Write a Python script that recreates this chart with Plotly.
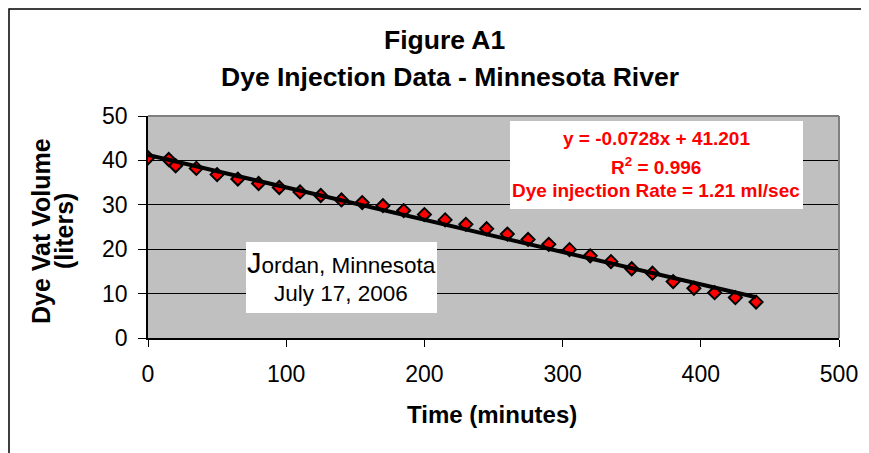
import plotly.graph_objects as go

# datos
time_min = [0, 15, 20, 35, 50, 65, 80, 95, 110, 125, 140, 155, 170, 185, 200, 215,
            230, 245, 260, 275, 290, 305, 320, 335, 350, 365, 380, 395, 410, 425, 440]
volume_l = [40.6, 40.2, 38.8, 38.2, 36.8, 35.8, 34.8, 33.9, 32.9, 32.1, 31.1, 30.5,
            29.8, 28.7, 27.8, 26.6, 25.6, 24.6, 23.4, 22.2, 21.1, 19.9, 18.5, 17.2,
            15.6, 14.6, 12.7, 11.2, 10.2, 9.1, 8.1]

slope = -0.0728
intercept = 41.201
x_ticks = [0, 100, 200, 300, 400, 500]
y_ticks = [0, 10, 20, 30, 40, 50]

# la pagina tiene 8px de margen en el body
OFF = 8
W, H = 869 - OFF, 453 - OFF
L, R, T, B = 148, 839, 116, 338
FONT = "Arial, Liberation Sans, sans-serif"


def px(x):
    return (x - L) / (R - L)


def py(y):
    return (B - y) / (B - T)


trend_x = [min(time_min), max(time_min)]
trend_y = [slope * v + intercept for v in trend_x]

fig = go.Figure()
fig.add_trace(go.Scatter(
    x=time_min, y=volume_l, mode="markers",
    marker=dict(symbol="diamond", size=10, color="#FF0000",
                line=dict(color="black", width=2)),
    showlegend=False,
))
fig.add_trace(go.Scatter(
    x=trend_x, y=trend_y, mode="lines",
    line=dict(color="black", width=4),
    showlegend=False,
))

fig.update_layout(
    width=W, height=H,
    margin=dict(l=L - OFF, r=W - (R - OFF), t=T - OFF, b=H - (B - OFF)),
    paper_bgcolor="white",
    plot_bgcolor="#C0C0C0",
    font=dict(family=FONT, color="black"),
    showlegend=False,
)
fig.update_xaxes(
    range=[0, 500], tickvals=x_ticks, ticks="outside", ticklen=7, tickcolor="black",
    showline=True, linecolor="black", linewidth=1.5, showgrid=False, zeroline=False,
    tickfont=dict(size=23, family=FONT), ticklabelstandoff=8,
)
fig.update_yaxes(
    range=[0, 50], tickvals=y_ticks, ticks="outside", ticklen=8, tickcolor="black",
    showline=True, linecolor="black", linewidth=1.5, showgrid=True,
    gridcolor="black", gridwidth=1, zeroline=False,
    tickfont=dict(size=23, family=FONT), ticklabelstandoff=6,
)

shapes = [
    # borde del area del grafico (arriba y derecha en gris)
    dict(type="line", xref="paper", yref="paper", x0=0, x1=1, y0=1, y1=1,
         line=dict(color="#808080", width=2)),
    dict(type="line", xref="paper", yref="paper", x0=1, x1=1, y0=0, y1=1,
         line=dict(color="#808080", width=2)),
    # marco exterior
    dict(type="rect", xref="paper", yref="paper",
         x0=px(9), x1=px(865), y0=py(470), y1=py(9),
         line=dict(color="black", width=1.5), fillcolor="rgba(0,0,0,0)", layer="below"),
    # cajas blancas de texto
    dict(type="rect", xref="paper", yref="paper",
         x0=px(510), x1=px(803), y0=py(209), y1=py(121),
         line=dict(width=0), fillcolor="white"),
    dict(type="rect", xref="paper", yref="paper",
         x0=px(246), x1=px(437), y0=py(313), y1=py(242),
         line=dict(width=0), fillcolor="white"),
]

annotations = [
    dict(text="<b>Figure A1</b>", x=px(444), y=py(40), font=dict(size=26.5)),
    dict(text="<b>Dye Injection Data - Minnesota River</b>", x=px(450), y=py(77),
         font=dict(size=26.5)),
    dict(text="<b>Dye Vat Volume</b>", x=px(41), y=py(231), textangle=-90,
         font=dict(size=25)),
    dict(text="<b>(liters)</b>", x=px(64), y=py(231), textangle=-90,
         font=dict(size=25)),
    dict(text="<b>Time (minutes)</b>", x=px(492), y=py(414), font=dict(size=24)),
    dict(text="<b>y = -0.0728x + 41.201</b>", x=px(656), y=py(138),
         font=dict(size=19, color="#FF0000")),
    dict(text="<b>R<sup>2</sup> = 0.996</b>", x=px(656), y=py(166),
         font=dict(size=19, color="#FF0000")),
    dict(text="<b>Dye injection Rate = 1.21 ml/sec</b>", x=px(656), y=py(190),
         font=dict(size=19, color="#FF0000")),
    dict(text="<span style='font-size:29px'>J</span>ordan, Minnesota", x=px(341),
         y=py(263), font=dict(size=22.5)),
    dict(text="July 17, 2006", x=px(341), y=py(293), font=dict(size=22.5)),
]
for a in annotations:
    a.update(xref="paper", yref="paper", showarrow=False,
             xanchor="center", yanchor="middle")
    a["font"].setdefault("family", FONT)
    a["font"].setdefault("color", "black")

fig.update_layout(shapes=shapes, annotations=annotations)

fig.write_html("out.html")
